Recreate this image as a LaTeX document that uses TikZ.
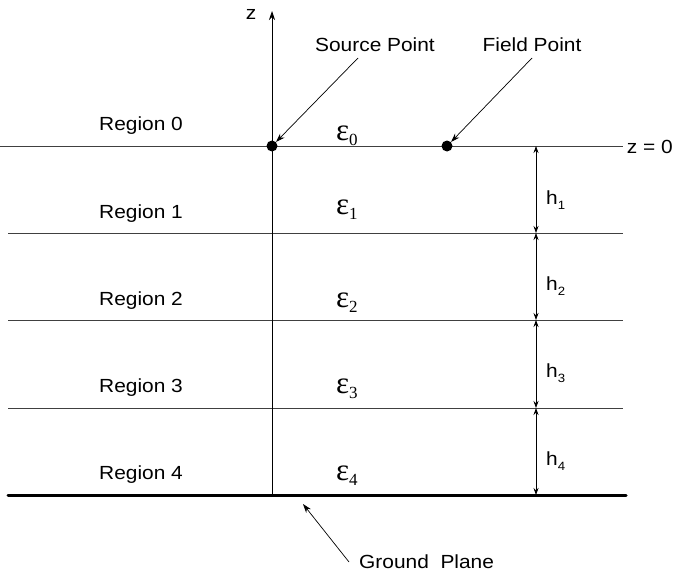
\documentclass[tikz,border=0pt]{standalone}
\usepackage{fontspec}
\setmainfont{Liberation Sans}[FakeStretch=1.1]
\newfontfamily\epsfont{Liberation Serif}
\usetikzlibrary{arrows.meta}
\begin{document}
\begin{tikzpicture}[x=1pt,y=-1pt,
  lbl/.style={font=\fontsize{19}{22}\selectfont, inner sep=0pt, anchor=base},
  epslbl/.style={inner sep=0pt, anchor=base west},
  layer/.style={line width=0.8pt, draw=black!75},
  ptr/.style={line width=0.7pt, -{Stealth[length=9pt,width=6pt]}},
  dim/.style={line width=0.7pt, {Stealth[length=7pt,width=5pt]}-{Stealth[length=7pt,width=5pt]}},
  dot/.style={circle, fill=black, inner sep=0pt, minimum size=11pt}]
\useasboundingbox (0,0) rectangle (674,578);
% coordinates
\coordinate (L0) at (0,146);   \coordinate (R0) at (623,146);
\coordinate (L1) at (8,233);   \coordinate (R1) at (623,233);
\coordinate (L2) at (8,320);   \coordinate (R2) at (623,320);
\coordinate (L3) at (8,408);   \coordinate (R3) at (623,408);
\coordinate (L4) at (8,495);   \coordinate (R4) at (626,495);
\coordinate (axb) at (272,495); \coordinate (axt) at (272,11);
\coordinate (d0) at (536,146); \coordinate (d1) at (536,233);
\coordinate (d2) at (536,320); \coordinate (d3) at (536,408);
\coordinate (d4) at (536,495);
\coordinate (gtip) at (303,504);
\coordinate (gtail) at (349,562);
% layer lines
\draw[layer] (L0) -- (R0);
\draw[layer] (L1) -- (R1);
\draw[layer] (L2) -- (R2);
\draw[layer] (L3) -- (R3);
\draw[line width=3pt, line cap=round] (L4) -- (R4);
% axis
\draw[line width=0.8pt, -{Stealth[length=9pt,width=6pt]}] (axb) -- (axt);
\node[lbl] (zlab) at (251,20) {z};
\node[lbl, anchor=base east] (z0) at (673,153) {z = 0};
% points
\node[dot] (src) at (272,146) {};
\node[dot] (fld) at (447,146) {};
\node[lbl] (srclab) at (375,52) {Source Point};
\node[lbl] (fldlab) at (532,52) {Field Point};
\draw[ptr] (358,58) -- (src.north east);
\draw[ptr] (532,58) -- (fld.north east);
% region labels
\node[lbl] (r0) at (141,130) {Region 0};
\node[lbl] (r1) at (141,218) {Region 1};
\node[lbl] (r2) at (141,305) {Region 2};
\node[lbl] (r3) at (141,392) {Region 3};
\node[lbl] (r4) at (141,479) {Region 4};
% epsilons
\newcommand{\epsl}[1]{{\epsfont\fontsize{31}{31}\selectfont ε}\raisebox{-5pt}{\epsfont\fontsize{17}{17}\selectfont #1}}
\node[epslbl] (e0) at (336,140) {\epsl{0}};
\node[epslbl] (e1) at (336,214) {\epsl{1}};
\node[epslbl] (e2) at (336,307) {\epsl{2}};
\node[epslbl] (e3) at (336,393) {\epsl{3}};
\node[epslbl] (e4) at (336,480) {\epsl{4}};
% dimension arrows
\draw[dim] (d0) -- (d1);
\draw[dim] (d1) -- (d2);
\draw[dim] (d2) -- (d3);
\draw[dim] (d3) -- (d4);
\newcommand{\hl}[1]{h\raisebox{-5pt}{\fontsize{12}{12}\selectfont #1}}
\node[lbl, anchor=base west] (h1) at (546,204) {\hl{1}};
\node[lbl, anchor=base west] (h2) at (546,290) {\hl{2}};
\node[lbl, anchor=base west] (h3) at (546,377) {\hl{3}};
\node[lbl, anchor=base west] (h4) at (546,465) {\hl{4}};
% ground plane
\node[lbl, anchor=base west] (gp) at (359,568) {Ground\ \ Plane};
\draw[ptr] (gtail) -- (gtip);
\end{tikzpicture}
\end{document}
